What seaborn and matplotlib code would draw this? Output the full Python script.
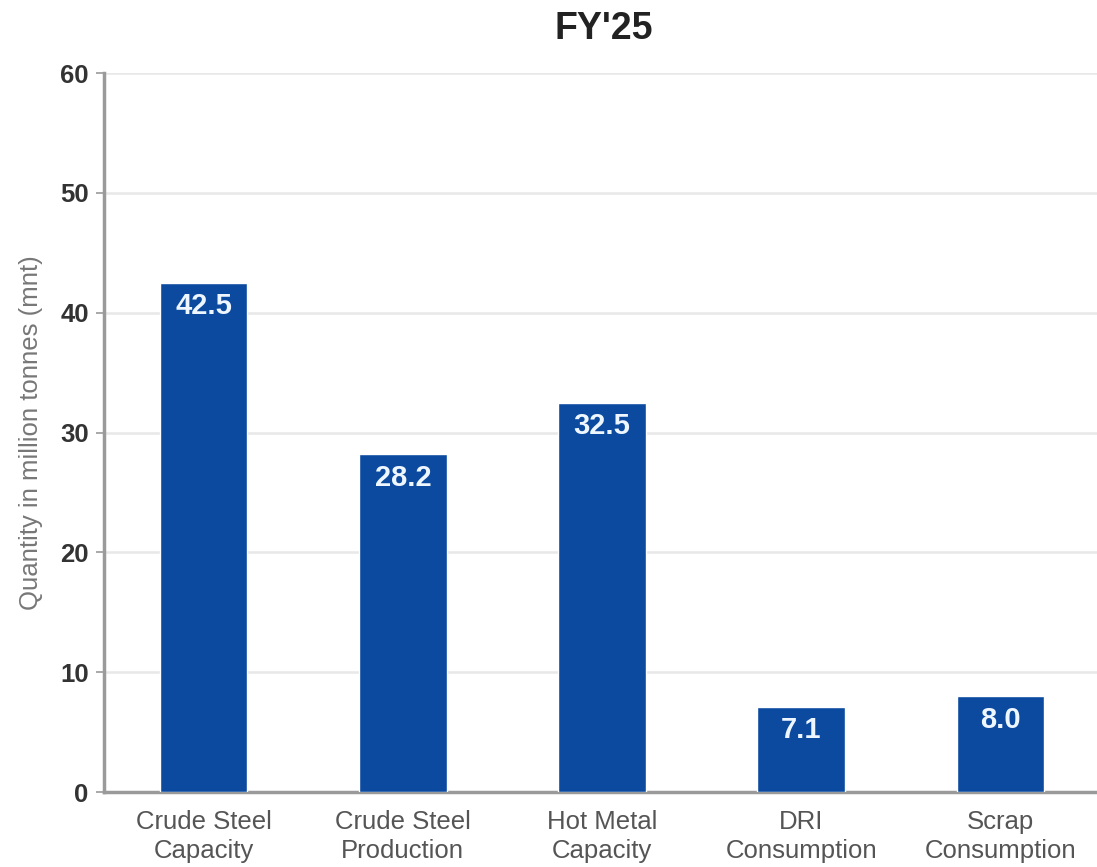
import matplotlib
matplotlib.use("Agg")
import matplotlib.pyplot as plt
import seaborn as sns
import pandas as pd

categories = ["Crude Steel\nCapacity", "Crude Steel\nProduction", "Hot Metal\nCapacity",
              "DRI\nConsumption", "Scrap\nConsumption"]
values = [42.5, 28.2, 32.5, 7.1, 8.0]
y_ticks = [0, 10, 20, 30, 40, 50, 60]

sns.set_theme(style="white")
plt.rcParams["font.family"] = ["Liberation Sans", "DejaVu Sans"]

df = pd.DataFrame({"category": categories, "value": values})

fig = plt.figure(figsize=(10.97, 8.67), dpi=100)
ax = fig.add_axes([0.0948, 0.0865, 0.908, 0.8293])

bar_color = "#0B4A9E"
sns.barplot(data=df, x="category", y="value", color=bar_color, saturation=1,
            width=0.44, ax=ax, zorder=3)

ax.set_ylim(0, 60)
ax.set_yticks(y_ticks)
ax.yaxis.grid(True, color="#e8e8e8", linewidth=1.8, zorder=0)
ax.set_axisbelow(True)

for s in ["top", "right"]:
    ax.spines[s].set_visible(False)
for s in ["left", "bottom"]:
    ax.spines[s].set_color("#9a9a9a")
    ax.spines[s].set_linewidth(2.5)

ax.tick_params(axis="y", which="both", left=True, length=6, width=1.2, color="#9a9a9a",
               labelsize=18.5, labelcolor="#333333", pad=5)
ax.tick_params(axis="x", bottom=False, labelsize=18.5, labelcolor="#555555", pad=7)
for lbl in ax.get_yticklabels():
    lbl.set_fontweight("bold")
for lbl in ax.get_xticklabels():
    lbl.set_linespacing(1.25)

ax.set_xlabel("")
ax.set_ylabel("Quantity in million tonnes (mnt)", fontsize=18.5, color="#777777", labelpad=12)

for container in ax.containers:
    ax.bar_label(container, labels=[f"{v:.1f}" for v in values], label_type="edge",
                 padding=-27, color="#eef6ff", fontsize=21, fontweight="bold", zorder=4)

fig.text(0.550, 0.967, "FY'25", ha="center", va="center", fontsize=27,
         fontweight="bold", color="#222222")

fig.savefig("out.png", dpi=100, facecolor="white")
